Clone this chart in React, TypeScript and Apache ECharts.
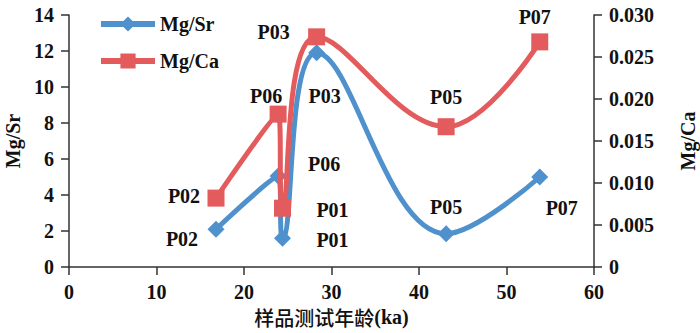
import React, { useEffect, useRef } from "react";
import * as echarts from "echarts";

const sampleNames = ["P02", "P06", "P01", "P03", "P05", "P07"];
const ages = [16.8, 23.9, 24.4, 28.3, 43.1, 53.8];
const mgSr = [2.1, 5.05, 1.6, 11.9, 1.85, 5.0];
const mgCa = [0.0082, 0.0182, 0.007, 0.0274, 0.0167, 0.0268];
const xTicks = [0, 10, 20, 30, 40, 50, 60];

// label offsets (style only)
const srOffsets: [number, number][] = [
  [-34, 10], [46, -12], [50, 2], [8, 43], [0, -27], [22, 31],
];
const caOffsets: [number, number][] = [
  [-32, -2], [-12, -18], [50, 2], [-43, -5], [0, -30], [-5, -25],
];

const BLUE = "#4f91cc";
const RED = "#e35b5c";
const FONT = "Liberation Serif";

export default function App() {
  const ref = useRef<HTMLDivElement>(null);
  useEffect(() => {
    document.body.style.margin = "0";
    const chart = echarts.init(ref.current!, null, { renderer: "svg" });
    const labelStyle = {
      show: true,
      position: "inside" as const,
      color: "#111",
      fontFamily: FONT,
      fontWeight: "bold" as const,
      fontSize: 20,
    };
    const srData = ages.map((a, i) => ({
      value: [a, mgSr[i]],
      label: { ...labelStyle, formatter: sampleNames[i], offset: srOffsets[i] },
    }));
    const caData = ages.map((a, i) => ({
      value: [a, mgCa[i]],
      label: { ...labelStyle, formatter: sampleNames[i], offset: caOffsets[i] },
    }));
    const axisText = {
      color: "#111",
      fontFamily: FONT,
      fontWeight: "bold" as const,
      fontSize: 20,
    };
    const axisLine = { show: true, lineStyle: { color: "#333", width: 1.5 } };
    const axisTick = { show: true, length: 8, lineStyle: { color: "#333", width: 1.5 } };
    chart.setOption({
      animation: false,
      grid: {
        left: 69,
        right: 106,
        top: 15,
        bottom: 66,
        containLabel: false,
        outerBoundsMode: "none",
      },
      legend: {
        orient: "vertical",
        left: 93,
        top: 9,
        itemWidth: 54,
        itemHeight: 19,
        itemGap: 17,
        lineStyle: { width: 6 },
        textStyle: { ...axisText },
        data: ["Mg/Sr", "Mg/Ca"],
      },
      xAxis: {
        type: "value",
        min: xTicks[0],
        max: xTicks[xTicks.length - 1],
        interval: 10,
        name: "{cn|样品测试年龄}{en|(ka)}",
        nameLocation: "middle",
        nameGap: 40,
        nameTextStyle: {
          rich: {
            cn: {
              fontFamily: "Noto Sans CJK SC",
              fontWeight: 500,
              fontSize: 20,
              color: "#111",
            },
            en: {
              fontFamily: FONT,
              fontWeight: "bold",
              fontSize: 20,
              color: "#111",
            },
          },
        },
        axisLine,
        axisTick,
        axisLabel: { ...axisText, margin: 15 },
        splitLine: { show: false },
      },
      yAxis: [
        {
          type: "value",
          min: 0,
          max: 14,
          interval: 2,
          name: "Mg/Sr",
          nameLocation: "middle",
          nameGap: 45,
          nameTextStyle: axisText,
          axisLine,
          axisTick,
          axisLabel: { ...axisText, margin: 15 },
          splitLine: { show: false },
        },
        {
          type: "value",
          min: 0,
          max: 0.03,
          interval: 0.005,
          name: "Mg/Ca",
          nameLocation: "middle",
          nameGap: 84,
          nameRotate: 90,
          nameTextStyle: axisText,
          axisLine,
          axisTick,
          axisLabel: {
            ...axisText,
            margin: 15,
            formatter: (v: number) => (v === 0 ? "0" : v.toFixed(3)),
          },
          splitLine: { show: false },
        },
      ],
      series: [
        {
          name: "Mg/Sr",
          type: "line",
          yAxisIndex: 0,
          data: srData,
          smooth: 0.4,
          symbol: "diamond",
          symbolSize: 17,
          itemStyle: { color: BLUE },
          lineStyle: { color: BLUE, width: 5 },
          z: 2,
        },
        {
          name: "Mg/Ca",
          type: "line",
          yAxisIndex: 1,
          data: caData,
          smooth: 0.4,
          symbol: "rect",
          symbolSize: 17,
          itemStyle: { color: RED },
          lineStyle: { color: RED, width: 5 },
          z: 3,
        },
      ],
    });
    return () => chart.dispose();
  }, []);
  return <div ref={ref} style={{ width: 700, height: 333 }} />;
}
